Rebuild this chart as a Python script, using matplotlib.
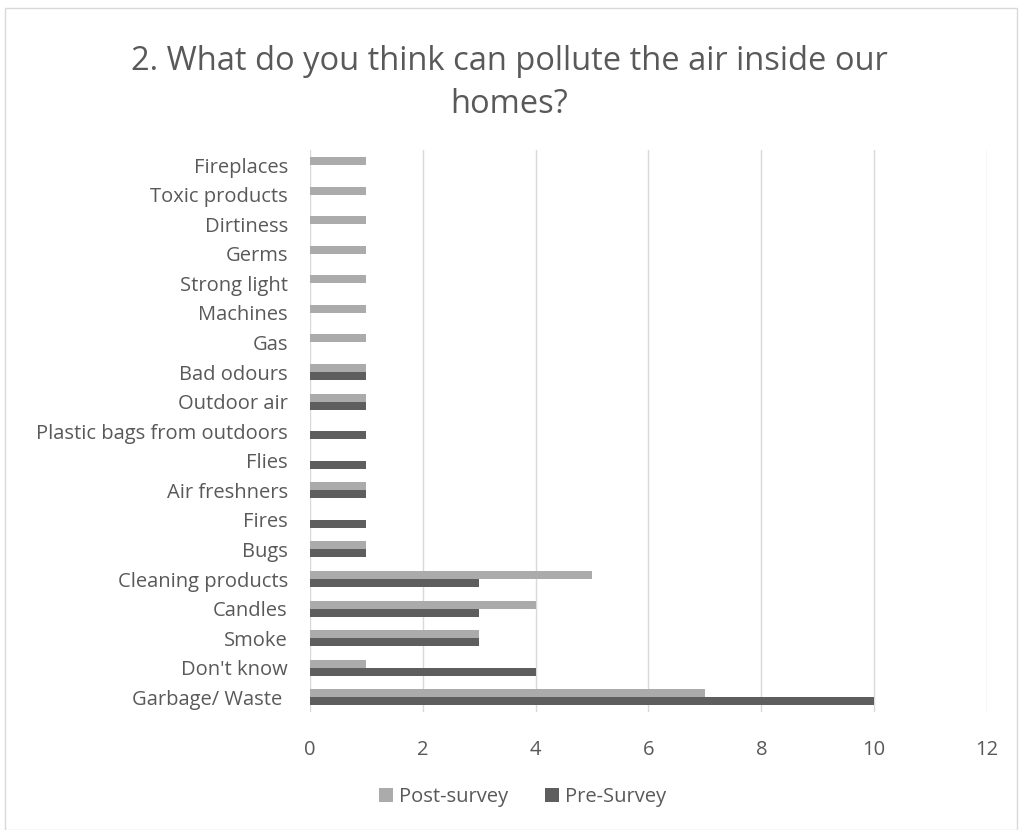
import numpy as np
import matplotlib
matplotlib.use("Agg")
import matplotlib.pyplot as plt
from matplotlib.patches import Rectangle

categories = ["Garbage/ Waste ", "Don't know", "Smoke", "Candles", "Cleaning products",
              "Bugs", "Fires", "Air freshners", "Flies", "Plastic bags from outdoors",
              "Outdoor air", "Bad odours", "Gas", "Machines", "Strong light", "Germs",
              "Dirtiness", "Toxic products", "Fireplaces"]
post_survey = [7, 1, 3, 4, 5, 1, 0, 1, 0, 0, 1, 1, 1, 1, 1, 1, 1, 1, 1]
pre_survey = [10, 4, 3, 3, 3, 1, 1, 1, 1, 1, 1, 1, 0, 0, 0, 0, 0, 0, 0]
x_ticks = [0, 2, 4, 6, 8, 10, 12]

plt.rcParams['font.family'] = ['Open Sans', 'DejaVu Sans']
text_col = '#595959'
post_col = '#ABABAB'
pre_col = '#5E5E5E'

fig = plt.figure(figsize=(10.19, 8.3), dpi=100)
fig.patches.append(Rectangle((0.005, 0.0), 0.993, 0.99, transform=fig.transFigure,
                             fill=False, edgecolor='#D9D9D9', linewidth=1))

ax = fig.add_axes([0.3042, 0.142, 0.6644, 0.677])
y = np.arange(len(categories))
h = 0.27
ax.barh(y + h / 2, post_survey, height=h, color=post_col, label='Post-survey', zorder=3)
ax.barh(y - h / 2, pre_survey, height=h, color=pre_col, label='Pre-Survey', zorder=3)

ax.set_xlim(0, 12)
ax.set_ylim(-0.5, len(categories) - 0.5)
ax.set_xticks(x_ticks)
ax.set_yticks(y)
ax.set_yticklabels(categories)
ax.tick_params(length=0, labelsize=14.5, colors=text_col)
ax.tick_params(axis='x', pad=20)
ax.tick_params(axis='y', pad=16)
ax.grid(axis='x', color='#D9D9D9', linewidth=1, zorder=0)
for s in ax.spines.values():
    s.set_visible(False)

fig.text(0.5, 0.9, "2. What do you think can pollute the air inside our\nhomes?",
         ha='center', va='center', fontsize=23.5, color=text_col, linespacing=1.4)

fig.legend(loc='center', bbox_to_anchor=(0.513, 0.04), ncol=2, frameon=False,
           fontsize=14.5, labelcolor=text_col, handlelength=0.7, handleheight=0.7,
           columnspacing=1.8, handletextpad=0.3)

fig.savefig("out.png", dpi=100)
